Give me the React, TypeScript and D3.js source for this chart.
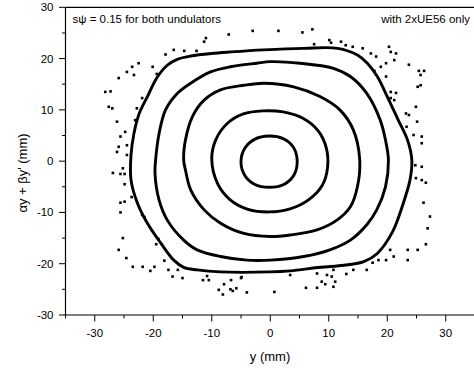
import React from "react";
import * as d3 from "d3";

type P = [number, number];

const xTicks = [-30, -20, -10, 0, 10, 20, 30];
const yTicks = [-30, -20, -10, 0, 10, 20, 30];
const xMinor = [-35, -25, -15, -5, 5, 15, 25, 35];
const yMinor = [-25, -15, -5, 5, 15, 25];

const titleLeft = "s\u03C8 = 0.15 for both undulators";
const titleRight = "with 2xUE56 only";
const xLabel = "y (mm)";
const yLabel = "\u03B1y + \u03B2y' (mm)";

const orbit1: P[] = [
  [-5.0, 0], [-4.3, 2.6], [-2.6, 4.3], [-0.2, 4.9], [2.2, 4.4], [3.9, 2.8],
  [4.6, 0.2], [4.1, -2.6], [2.4, -4.5], [-0.2, -5.1], [-2.7, -4.5], [-4.4, -2.7],
];
const orbit2: P[] = [
  [-10.0, 0.5], [-9.3, 4.2], [-7.4, 7.3], [-4.6, 9.2], [-1.3, 9.8], [2.2, 9.6],
  [5.5, 8.4], [8.2, 5.9], [9.6, 2.5], [9.8, -1.2], [8.9, -4.7], [6.6, -7.5],
  [3.4, -9.3], [-0.2, -9.9], [-3.8, -9.4], [-6.9, -7.5], [-9.0, -4.4],
];
const orbit3: P[] = [
  [-14.8, 0.2], [-14.5, 4.1], [-13.3, 8.7], [-11.3, 11.9], [-8.5, 13.9], [-4.5, 14.8],
  [-1.1, 15.2], [4.0, 14.5], [8.5, 12.6], [11.9, 10.0], [14.2, 6.1], [15.3, 0.2],
  [14.9, -5.0], [13.7, -8.9], [11.4, -11.5], [8.0, -13.4], [3.4, -14.4], [0, -14.7],
  [-4.5, -14.1], [-8.5, -12.1], [-11.3, -9.5], [-13.6, -5.6], [-14.5, -1.7],
];
const orbit4: P[] = [
  [-19.6, 0.2], [-19.0, 5.4], [-17.9, 10.0], [-15.9, 13.2], [-13.6, 15.2], [-10.2, 17.4],
  [-6.8, 18.4], [-2.3, 19.1], [0, 19.4], [5.1, 19.1], [10.8, 18.1], [13.7, 16.5],
  [16.5, 13.2], [18.8, 8.0], [19.7, 4.1], [20.2, 0.2], [19.7, -5.0], [18.2, -9.5],
  [16.5, -12.4], [13.7, -15.4], [10.2, -17.3], [5.7, -18.6], [0, -19.3], [-4.0, -19.3],
  [-8.5, -18.6], [-12.5, -17.3], [-14.8, -15.4], [-17.6, -11.5], [-19.0, -7.6], [-19.7, -2.4],
];
const orbit5: P[] = [
  [-23.8, 1.2], [-23.3, 5.4], [-22.4, 9.3], [-21.0, 12.6], [-19.3, 16.4], [-17.6, 18.7],
  [-15.8, 19.9], [-13.6, 20.5], [-10.1, 21.0], [-6.7, 21.3], [-1.1, 21.7], [5.7, 22.0],
  [11.5, 22.0], [14.9, 20.7], [16.6, 19.1], [18.3, 16.5], [20.0, 12.6], [21.8, 8.2],
  [23.5, 4.0], [24.2, 0.2], [23.9, -3.6], [22.8, -8.0], [20.9, -13.8], [18.3, -18.0],
  [16.0, -19.6], [12.6, -20.3], [8.6, -20.7], [3.4, -21.4], [0, -21.6], [-8.5, -21.6],
  [-12.5, -21.2], [-14.8, -20.7], [-16.5, -19.3], [-18.7, -16.0], [-21.0, -12.1],
  [-22.7, -8.2], [-23.8, -3.7],
];
const orbits: P[][] = [orbit1, orbit2, orbit3, orbit4, orbit5];

const scatter: P[] = [
  [-28.2, 13.5], [-27.3, 13.6], [-25.9, 16.2], [-24.5, 17.4], [-23.6, 18.4], [-23.3, 16.8],
  [-22.5, 19.1], [-20.1, 18.4], [-19.4, 17.0], [-27.6, 10.6], [-27.0, 10.3], [-22.8, 10.3],
  [-21.9, 12.3], [-17.9, 20.8], [-16.5, 21.7], [-14.7, 21.5], [-12.6, 21.5], [-11.3, 23.3],
  [-11.0, 24.0], [-7.1, 24.7], [-3.0, 25.4], [1.4, 25.4], [5.5, 25.1], [7.2, 25.7],
  [7.5, 22.8], [10.1, 23.6], [10.4, 23.1], [12.1, 23.3], [12.9, 22.6], [14.1, 22.3],
  [15.8, 22.0], [17.2, 21.0], [18.1, 20.4], [20.3, 22.3], [20.6, 21.3], [21.5, 21.0],
  [21.2, 19.7], [19.8, 19.1], [18.9, 18.4], [17.8, 17.6], [23.7, 18.8], [25.4, 17.6],
  [26.3, 17.6], [25.7, 16.8], [19.8, 16.5], [25.2, 14.5], [25.7, 14.8], [20.6, 13.5],
  [21.5, 13.3], [20.6, 12.3], [21.2, 11.9], [24.9, 10.6], [23.2, 9.3], [23.7, 9.0],
  [25.1, 7.7], [23.3, 6.7], [24.5, 5.1], [25.9, 4.8], [25.9, 3.5],
  [24.8, -0.8], [25.9, -1.1], [24.9, -3.3], [25.9, -3.7], [26.6, -4.2], [26.2, -8.1],
  [27.3, -10.8], [26.9, -13.1], [26.6, -16.2], [25.2, -17.3], [23.5, -17.3], [23.5, -19.3],
  [21.1, -18.6], [20.5, -17.3], [19.8, -19.3], [18.5, -19.3], [17.5, -19.8], [16.5, -21.2],
  [14.2, -21.2], [13.0, -22.0], [10.8, -21.2], [10.5, -22.5], [11.1, -23.5], [10.8, -24.5],
  [9.7, -22.2], [8.8, -23.5], [9.4, -24.0], [8.0, -21.9], [8.0, -24.7], [6.1, -24.7],
  [3.4, -22.2], [0.7, -25.5], [-4.0, -25.6], [-5.0, -22.8],
  [-5.8, -24.8], [-4.9, -22.6], [-6.8, -25.0], [-6.4, -25.3], [-6.7, -23.2], [-7.9, -24.0],
  [-8.8, -25.1], [-8.1, -26.0], [-10.8, -22.4], [-10.5, -23.2], [-11.5, -23.2], [-15.0, -22.8],
  [-15.8, -21.2], [-16.7, -22.5], [-17.4, -21.2], [-18.1, -19.4], [-19.1, -15.2], [-19.5, -16.2],
  [-19.8, -20.6], [-20.5, -21.4], [-21.8, -20.6], [-23.5, -20.6], [-24.6, -18.9], [-25.9, -17.3],
  [-25.2, -15.0], [-21.9, -10.5], [-21.5, -10.9], [-25.6, -10.0], [-25.6, -8.1], [-24.9, -7.9],
  [-23.7, -7.0], [-24.9, -4.5], [-26.9, -2.3], [-25.6, -2.5], [-24.9, -2.5], [-25.2, -1.4],
  [-26.2, 7.7], [-23.1, 8.0], [-24.8, 5.7], [-25.6, 4.8], [-25.9, 2.8], [-24.5, 3.1],
  [-26.2, 1.8], [-24.5, 1.2],
];

const W = 474;
const H = 368;
const FONT = "'Liberation Sans', Arial, sans-serif";

export default function App() {
  const x = d3.scaleLinear().domain([-35, 35]).range([65.5, 475]);
  const y = d3.scaleLinear().domain([-30, 30]).range([315, 7.3]);
  const line = d3
    .line<P>()
    .x((d) => x(d[0]))
    .y((d) => y(d[1]))
    .curve(d3.curveCatmullRomClosed.alpha(0.5));

  const x0 = x(-35);
  const yb = y(-30);
  const yt = y(30);

  return (
    <svg
      width={W}
      height={H}
      style={{ position: "absolute", left: 0, top: 0, background: "#fff" }}
      fontFamily={FONT}
    >
      <rect x={0} y={0} width={W} height={H} fill="#fff" />
      {orbits.map((o, i) => (
        <path
          key={i}
          d={line(o) || ""}
          fill="none"
          stroke="#000"
          strokeWidth={2.9}
          strokeLinejoin="round"
        />
      ))}
      {scatter.map((d, i) => (
        <rect
          key={i}
          x={x(d[0]) - 1.3}
          y={y(d[1]) - 1.3}
          width={2.6}
          height={2.6}
          fill="#000"
        />
      ))}
      <line x1={x0} x2={W + 2} y1={yt} y2={yt} stroke="#000" strokeWidth={1.2} />
      <line x1={x0} x2={W + 2} y1={yb} y2={yb} stroke="#000" strokeWidth={1.2} />
      <line x1={x0} x2={x0} y1={yt} y2={yb} stroke="#000" strokeWidth={1.2} />
      {xTicks.map((t) => (
        <g key={"xt" + t}>
          <line x1={x(t)} x2={x(t)} y1={yb} y2={yb + 6.5} stroke="#000" strokeWidth={1} />
          <text x={x(t)} y={yb + 21.5} fontSize={11.5} textAnchor="middle" fill="#000">
            {t}
          </text>
        </g>
      ))}
      {xMinor.map((t) => (
        <line key={"xm" + t} x1={x(t)} x2={x(t)} y1={yb} y2={yb + 3.5} stroke="#000" strokeWidth={1} />
      ))}
      {yTicks.map((t) => (
        <g key={"yt" + t}>
          <line x1={x0 - 6.5} x2={x0} y1={y(t)} y2={y(t)} stroke="#000" strokeWidth={1} />
          <text x={x0 - 12} y={y(t) + 4} fontSize={11.5} textAnchor="end" fill="#000">
            {t}
          </text>
        </g>
      ))}
      {yMinor.map((t) => (
        <line key={"ym" + t} x1={x0 - 3.5} x2={x0} y1={y(t)} y2={y(t)} stroke="#000" strokeWidth={1} />
      ))}
      <text x={72.5} y={23} fontSize={11.5} fill="#000">
        {titleLeft}
      </text>
      <text x={470} y={23} fontSize={11.5} textAnchor="end" fill="#000">
        {titleRight}
      </text>
      <text x={270} y={361} fontSize={13} textAnchor="middle" fill="#000">
        {xLabel}
      </text>
      <text
        transform={`translate(27,173) rotate(-90)`}
        fontSize={13}
        textAnchor="middle"
        fill="#000"
      >
        {yLabel}
      </text>
    </svg>
  );
}
